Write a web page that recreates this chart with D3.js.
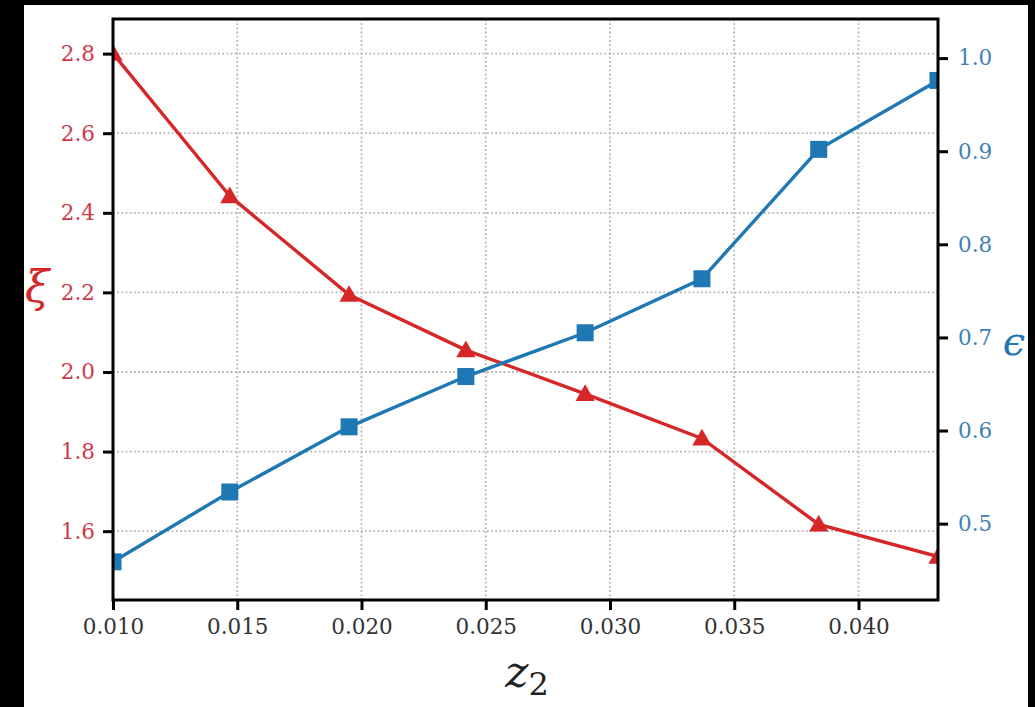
<!DOCTYPE html>
<html>
<head>
<meta charset="utf-8">
<script src="https://cdn.jsdelivr.net/npm/d3@7"></script>
<style>
  html, body { margin: 0; padding: 0; background: #000; }
  svg { display: block; }
</style>
</head>
<body>
<svg id="chart" width="1035" height="707"></svg>
<script>
// ---- data ----
const z2 = [0.0100, 0.0147, 0.0195, 0.0242, 0.0290, 0.0337, 0.0384, 0.0432];
const xi = [2.800, 2.442, 2.194, 2.055, 1.945, 1.833, 1.617, 1.536];
const eps = [0.459, 0.534, 0.604, 0.658, 0.705, 0.763, 0.902, 0.976];
const xTicks = [0.010, 0.015, 0.020, 0.025, 0.030, 0.035, 0.040];
const xiTicks = [1.6, 1.8, 2.0, 2.2, 2.4, 2.6, 2.8];
const epsTicks = [0.5, 0.6, 0.7, 0.8, 0.9, 1.0];

const RED = "#d62728", BLUE = "#1f77b4";
const RED_T = "#cf3a48", BLUE_T = "#3f82b8";

const svg = d3.select("#chart");
svg.append("rect").attr("x", 24).attr("y", 5).attr("width", 1004).attr("height", 702).attr("fill", "#fff");

const L = 113, R = 938, T = 19, B = 600;
const x = d3.scaleLinear().domain([0.010, 0.0432]).range([L, R]);
const yL = d3.scaleLinear().domain([1.427, 2.887]).range([B, T]);
const yR = d3.scaleLinear().domain([0.418, 1.042]).range([B, T]);

svg.append("clipPath").attr("id", "clip").append("rect")
  .attr("x", L).attr("y", T).attr("width", R - L).attr("height", B - T);

// grid
const grid = svg.append("g").attr("stroke", "#b5b5b5").attr("stroke-width", 1.8).attr("stroke-dasharray", "1.8,2.4");
grid.selectAll("line.v").data(xTicks).join("line").attr("class", "v")
  .attr("x1", d => x(d)).attr("x2", d => x(d)).attr("y1", T).attr("y2", B);
grid.selectAll("line.h").data(xiTicks).join("line").attr("class", "h")
  .attr("x1", L).attr("x2", R).attr("y1", d => yL(d)).attr("y2", d => yL(d));

const plot = svg.append("g").attr("clip-path", "url(#clip)");

// red series
const lineL = d3.line().x((d, i) => x(z2[i])).y(d => yL(d));
plot.append("path").datum(xi).attr("d", lineL).attr("fill", "none").attr("stroke", RED).attr("stroke-width", 3.4);
const tri = d3.symbol().type(d3.symbolTriangle).size(160);
plot.selectAll("path.tri").data(xi).join("path").attr("class", "tri")
  .attr("d", tri).attr("fill", RED)
  .attr("transform", (d, i) => `translate(${x(z2[i])},${yL(d) + 1.5})`);

// blue series
const lineR = d3.line().x((d, i) => x(z2[i])).y(d => yR(d));
plot.append("path").datum(eps).attr("d", lineR).attr("fill", "none").attr("stroke", BLUE).attr("stroke-width", 3.4);
plot.selectAll("rect.sq").data(eps).join("rect").attr("class", "sq")
  .attr("x", (d, i) => x(z2[i]) - 8.5).attr("y", d => yR(d) - 8.5)
  .attr("width", 17).attr("height", 17).attr("fill", BLUE);

// axes
const font = "'DejaVu Serif', serif";
function styleAxis(g, color) {
  g.select(".domain").remove();
  g.selectAll(".tick line").attr("stroke", "#000").attr("stroke-width", 3);
  g.selectAll(".tick text").attr("fill", color).style("font-family", font).style("font-size", "21.5px");
}
const gx = svg.append("g").attr("transform", `translate(0,${B})`)
  .call(d3.axisBottom(x).tickValues(xTicks).tickFormat(d3.format(".3f")).tickSize(10).tickPadding(9));
styleAxis(gx, "#333");
const gl = svg.append("g").attr("transform", `translate(${L},0)`)
  .call(d3.axisLeft(yL).tickValues(xiTicks).tickFormat(d3.format(".1f")).tickSize(10).tickPadding(8));
styleAxis(gl, RED_T);
const gr = svg.append("g").attr("transform", `translate(${R},0)`)
  .call(d3.axisRight(yR).tickValues(epsTicks).tickFormat(d3.format(".1f")).tickSize(10).tickPadding(10));
styleAxis(gr, BLUE_T);

// frame
svg.append("rect").attr("x", L).attr("y", T).attr("width", R - L).attr("height", B - T)
  .attr("fill", "none").attr("stroke", "#000").attr("stroke-width", 3);

// labels
svg.append("text").attr("x", 37).attr("y", 302).attr("text-anchor", "middle")
  .style("font-family", font).style("font-style", "italic").style("font-size", "44px")
  .attr("fill", RED).text("ξ");
svg.append("text").attr("x", 1014).attr("y", 355).attr("text-anchor", "middle")
  .style("font-family", font).style("font-style", "italic").style("font-size", "40px")
  .attr("fill", BLUE).text("ϵ");
const zl = svg.append("text").attr("x", 527).attr("y", 687).attr("text-anchor", "middle")
  .style("font-family", font).style("font-size", "44px").attr("fill", "#222");
zl.append("tspan").style("font-style", "italic").text("z");
zl.append("tspan").attr("dy", 8).style("font-size", "32px").text("2");
</script>
</body>
</html>
